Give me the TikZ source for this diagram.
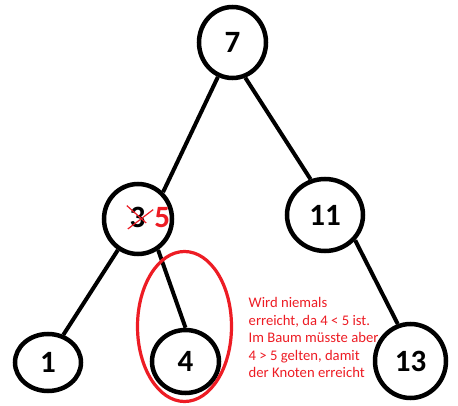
\documentclass[tikz,border=0pt]{standalone}
\usepackage{fontspec}
\setmainfont{Carlito}
\usetikzlibrary{positioning,shapes.geometric}
\definecolor{paintred}{RGB}{237,28,36}

\begin{document}
\begin{tikzpicture}[
        on grid,
        knot/.style={
                ellipse,
                draw=black,
                fill=white,
                line width=4.5pt,
                inner sep=0pt,
                font=\bfseries\fontsize{31}{31}\selectfont,
            },
        digit/.style={
                inner sep=0pt,
                font=\bfseries\fontsize{31}{31}\selectfont,
            },
        branch/.style={line width=4pt},
        strike/.style={draw=paintred, line width=1.2pt},
        miss/.style={
                ellipse,
                draw=paintred,
                line width=3.2pt,
                minimum width=94pt,
                minimum height=150pt,
            },
        note/.style={
                inner sep=0pt,
                align=left,
                text=paintred,
                font=\fontsize{14.67}{17.5}\selectfont,
            },
    ]
    \useasboundingbox (0pt,0pt) rectangle (458pt,-406pt);
    \node[note,anchor=base west] (remark) at (248.5pt,-377.7pt) {Wird niemals\\erreicht, da 4 < 5 ist.\\Im Baum müsste aber\\4 > 5 gelten, damit\\der Knoten erreicht};

    \node[knot,minimum width=67pt,minimum height=71pt] (n7) at (232.5pt,-42.5pt) {7};
    \node[knot,minimum width=68pt,minimum height=70pt] (n3) [below left=176.5pt and 94.5pt of n7] {};
    \node[knot,minimum width=76pt,minimum height=72pt] (n11) [below right=172.5pt and 92.5pt of n7] {11};
    \node[knot,minimum width=66pt,minimum height=57pt] (n1) [below left=143.5pt and 90pt of n3] {1};
    \node[knot,minimum width=67pt,minimum height=63pt] (n4) [below right=142.5pt and 47.5pt of n3] {4};
    \node[knot,minimum width=71pt,minimum height=74pt] (n13) [below right=146pt and 85.5pt of n11] {13};

    \draw[branch] (n7.-113) -- (n3.47);
    \draw[branch] (n7.-70) -- (n11.112);
    \draw[branch] (n3.-123) -- (n1.61);
    \draw[branch] (n3.-57) -- (n4.north);
    \draw[branch] (n11.-40) -- (n13.109);

    \node[miss] (unreached) [above=35pt of n4,xshift=-1pt] {};

    % alter Schluessel durchgestrichen, neuer daneben
    \node[digit] (old3) at ([xshift=-0.5pt,yshift=1.5pt]n3.center) {3};
    \node[digit,text=paintred,on grid=false] (new5) [right=8.5pt of old3] {5};
    \draw[strike] ([shift={(-2.6pt,1.4pt)}]old3.north west) -- ([shift={(0.6pt,5pt)}]old3.south east);
    \draw[strike] ([shift={(-1.6pt,-1pt)}]old3.south west) -- ([shift={(7.6pt,-2.6pt)}]old3.north east);
\end{tikzpicture}
\end{document}
